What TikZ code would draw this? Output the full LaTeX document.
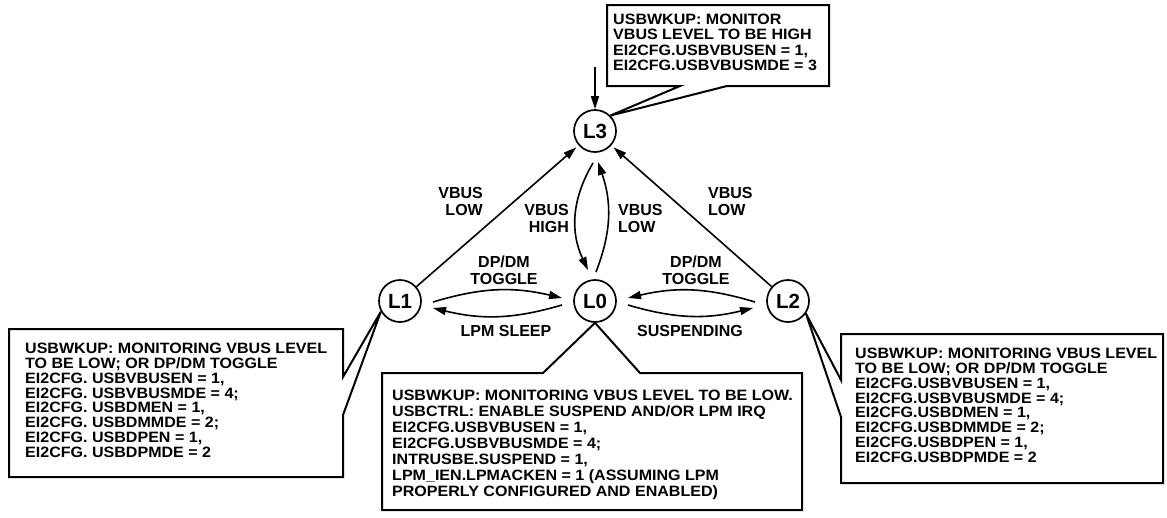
\documentclass[tikz,border=0pt]{standalone}
\usepackage{fontspec}
\setmainfont{Liberation Sans}
\newfontfamily\boxfont{Liberation Sans}[FakeStretch=1.07]
\usetikzlibrary{arrows.meta,calc}
\begin{document}
\begin{tikzpicture}[x=1pt,y=1pt,
  state/.style={circle,draw,line width=1.7pt,minimum size=42pt,inner sep=0pt,font=\fontsize{20.5}{22}\selectfont\bfseries},
  arr/.style={line width=1.6pt,-{Triangle[length=13pt,width=8pt]}},
  lbl/.style={font=\fontsize{16}{16.7}\selectfont\bfseries,inner sep=0pt},
  bubble/.style={draw,line width=2pt,line join=miter},
  boxtext/.style={anchor=north west,inner sep=0pt,align=left,font=\boxfont\fontsize{15}{14.8}\selectfont\bfseries},
  boxtexttop/.style={boxtext,font=\boxfont\fontsize{15}{15.3}\selectfont\bfseries},
  boxtextmid/.style={boxtext,font=\boxfont\fontsize{15}{16}\selectfont\bfseries}]
\useasboundingbox (0,0) rectangle (1167,-517);

% states
\node[state] (L3) at (595,-131) {L3};
\node[state] (L1) at (400,-301) {L1};
\node[state] (L0) at (595,-301) {L0};
\node[state] (L2) at (788,-301) {L2};

% entry arrow
\coordinate (in) at (595,-67);
\draw[arr] (in) -- (L3);

% to L3
\draw[arr,shorten >=3pt] (L1) -- (L3);
\draw[arr,shorten >=3pt] (L2) -- (L3);

% L3 <-> L0
\draw[arr] ($(L3)+(-2,-32)$) to[bend right=28] ($(L0)+(-7,31)$);
\draw[arr] ($(L0)+(1,29)$) to[bend right=20] ($(L3)+(3,-31)$);

% L1 <-> L0
\draw[arr] ($(L1)+(33,-1)$) to[bend left=15] ($(L0)+(-33,3)$);
\draw[arr] ($(L0)+(-33,-4)$) to[bend left=15] ($(L1)+(33,-7)$);

% L2 <-> L0
\draw[arr] ($(L2)+(-33,-1)$) to[bend right=15] ($(L0)+(33,3)$);
\draw[arr] ($(L0)+(33,-4)$) to[bend right=15] ($(L2)+(-35,-7)$);

% edge labels
\node[lbl,align=right,anchor=east] (t1) at (483,-201.5) {VBUS\\LOW};
\node[lbl,align=right,anchor=east] (t2) at (569,-218.5) {VBUS\\HIGH};
\node[lbl,align=left,anchor=west] (t3) at (618,-218.5) {VBUS\\LOW};
\node[lbl,align=left,anchor=west] (t4) at (708,-201.5) {VBUS\\LOW};
\node[lbl,align=center] (t5) at (504,-270.5) {DP/DM\\TOGGLE};
\node[lbl,align=center] (t6) at (696,-270.5) {DP/DM\\TOGGLE};
\node[lbl] (t7) at (506,-331) {LPM SLEEP};
\node[lbl] (t8) at (690,-331) {SUSPENDING};

% callout bubbles
\draw[bubble] (607,-5) -- (829,-5) -- (829,-86) -- (727,-86) -- (L3.45) -- (680,-86) -- (607,-86) -- cycle;
\node[boxtexttop] (b3) at (613,-14) {USBWKUP: MONITOR\\VBUS LEVEL TO BE HIGH\\EI2CFG.USBVBUSEN = 1,\\EI2CFG.USBVBUSMDE = 3};

\draw[bubble] (9,-329) -- (343,-329) -- (343,-377) -- (L1.209) -- (343,-415) -- (343,-477) -- (9,-477) -- cycle;
\node[boxtext] (b1) at (25,-343) {USBWKUP: MONITORING VBUS LEVEL\\TO BE LOW; OR DP/DM TOGGLE\\EI2CFG. USBVBUSEN = 1,\\EI2CFG. USBVBUSMDE = 4;\\EI2CFG. USBDMEN = 1,\\EI2CFG. USBDMMDE = 2;\\EI2CFG. USBDPEN = 1,\\EI2CFG. USBDPMDE = 2};

\draw[bubble] (382,-373) -- (543,-373) -- (L0.south) -- (640,-373) -- (802,-373) -- (802,-510) -- (382,-510) -- cycle;
\node[boxtextmid] (b0) at (392,-390) {USBWKUP: MONITORING VBUS LEVEL TO BE LOW.\\USBCTRL: ENABLE SUSPEND AND/OR LPM IRQ\\EI2CFG.USBVBUSEN = 1,\\EI2CFG.USBVBUSMDE = 4;\\INTRUSBE.SUSPEND = 1,\\LPM\_IEN.LPMACKEN = 1 (ASSUMING LPM\\PROPERLY CONFIGURED AND ENABLED)};

\draw[bubble] (841,-334) -- (1163,-334) -- (1163,-483) -- (841,-483) -- (841,-417) -- (L2.325) -- (841,-380) -- cycle;
\node[boxtext] (b2) at (855,-348) {USBWKUP: MONITORING VBUS LEVEL\\TO BE LOW; OR DP/DM TOGGLE\\EI2CFG.USBVBUSEN = 1,\\EI2CFG.USBVBUSMDE = 4;\\EI2CFG.USBDMEN = 1,\\EI2CFG.USBDMMDE = 2;\\EI2CFG.USBDPEN = 1,\\EI2CFG.USBDPMDE = 2};
\end{tikzpicture}
\end{document}
